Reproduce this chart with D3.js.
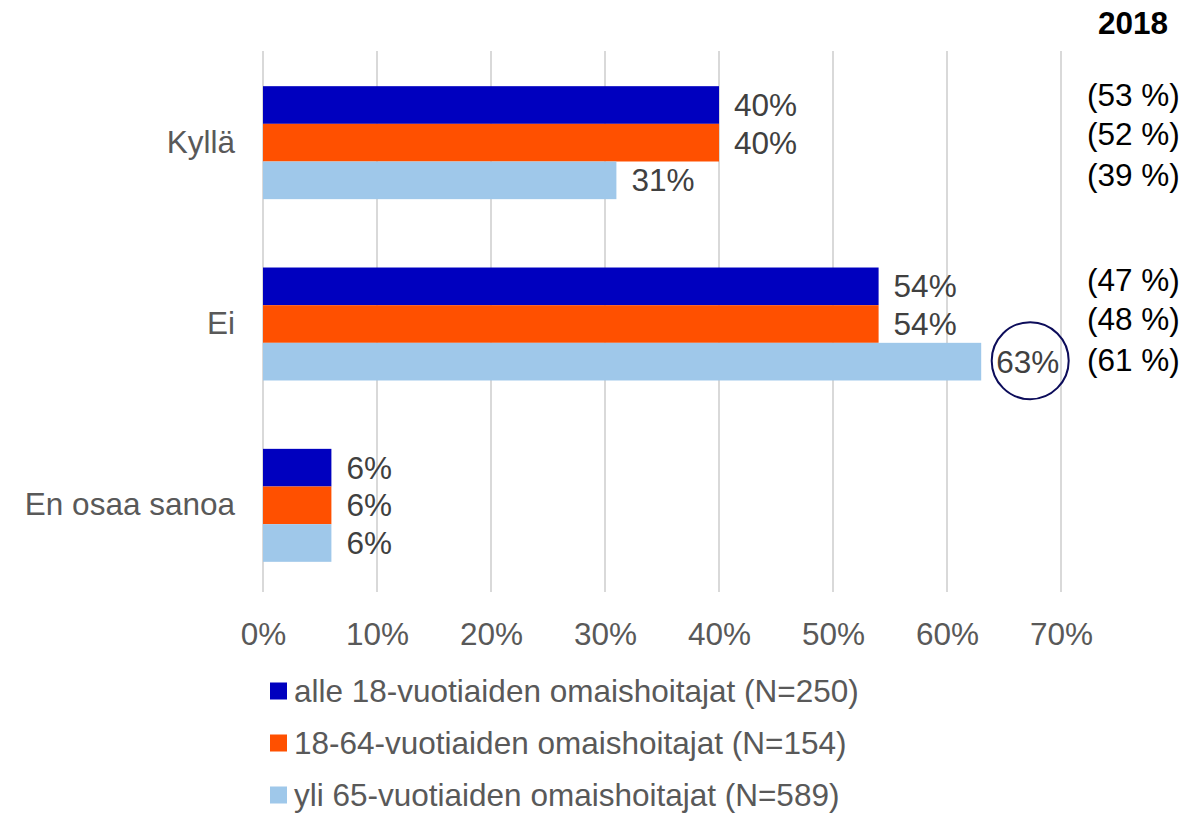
<!DOCTYPE html>
<html><head><meta charset="utf-8">
<script src="https://cdn.jsdelivr.net/npm/d3@7"></script>
<style>body{margin:0;background:#fff}svg{display:block;font-family:"Liberation Sans",Arial,sans-serif}</style>
</head><body>
<script>
const categories = ["Kyllä", "Ei", "En osaa sanoa"];
const seriesNames = ["alle 18-vuotiaiden omaishoitajat (N=250)", "18-64-vuotiaiden omaishoitajat (N=154)", "yli 65-vuotiaiden omaishoitajat (N=589)"];
const values2021 = [[40, 54, 6], [40, 54, 6], [31, 63, 6]];
const values2018 = [[53, 47], [52, 48], [39, 61]];
const xTicks = [0, 10, 20, 30, 40, 50, 60, 70];
const colors = ["#0000BF", "#FF5000", "#9FC8EA"];

const W = 1196, H = 813, FS = 31.5;
const svg = d3.select("body").append("svg").attr("width", W).attr("height", H);
const x = d3.scaleLinear().domain([0, 70]).range([263, 1061]);
const y0 = d3.scaleBand().domain(categories).range([52, 596]).paddingInner(0.377).paddingOuter(0.1885);
const y1 = d3.scaleBand().domain([0, 1, 2]).range([0, y0.bandwidth()]);

// gridlines
svg.append("g").selectAll("line").data(xTicks).join("line")
  .attr("x1", d => x(d)).attr("x2", d => x(d)).attr("y1", 51).attr("y2", 592)
  .attr("stroke", "#d9d9d9").attr("stroke-width", 2);

// x axis labels
const xAxis = d3.axisBottom(x).tickValues(xTicks).tickFormat(d => d + "%").tickSize(0).tickPadding(0);
const xg = svg.append("g").attr("transform", "translate(0,623)").call(xAxis);
xg.select(".domain").remove();
xg.selectAll("text").attr("font-size", FS).attr("fill", "#595959").attr("font-family", "Liberation Sans, Arial, sans-serif");

// category labels
const yAxis = d3.axisLeft(y0).tickSize(0).tickPadding(0);
const yg = svg.append("g").attr("transform", "translate(235,0)").call(yAxis);
yg.select(".domain").remove();
yg.selectAll("text").attr("font-size", FS).attr("fill", "#595959").attr("font-family", "Liberation Sans, Arial, sans-serif");

// bars
seriesNames.forEach((s, si) => {
  const g = svg.append("g");
  const data = categories.map((c, ci) => ({c, v: values2021[si][ci]}));
  g.selectAll("rect").data(data).join("rect")
    .attr("x", x(0)).attr("y", d => y0(d.c) + y1(si))
    .attr("width", d => x(d.v) - x(0)).attr("height", y1.bandwidth())
    .attr("fill", colors[si]);
  g.selectAll("text").data(data).join("text")
    .attr("x", d => x(d.v) + 15).attr("y", d => y0(d.c) + y1(si) + y1.bandwidth() / 2)
    .attr("dy", "0.35em").attr("font-size", FS).attr("fill", "#404040")
    .text(d => d.v + "%");
});

// 2018 comparison column
svg.append("text").attr("x", 1168).attr("y", 34).attr("text-anchor", "end")
  .attr("font-size", FS).attr("font-weight", "bold").attr("fill", "#000").text("2018");
const rowShift = [[-10, -9, -5], [-6, -5.5, -2]];
for (let ci = 0; ci < 2; ci++) {
  for (let si = 0; si < 3; si++) {
    const yy = y0(categories[ci]) + y1(si) + y1.bandwidth() / 2 + rowShift[ci][si];
    svg.append("text").attr("x", 1087).attr("y", yy).attr("dy", "0.35em")
      .attr("font-size", FS).attr("fill", "#000").text("(" + values2018[si][ci] + " %)");
  }
}

// highlight circle around 63%
svg.append("circle")
  .attr("cx", x(values2021[2][1]) + 49).attr("cy", y0("Ei") + y1(2) + y1.bandwidth() / 2 - 1)
  .attr("r", 38.5).attr("fill", "none").attr("stroke", "#0C0C5A").attr("stroke-width", 2);

// legend
const leg = svg.append("g");
seriesNames.forEach((s, i) => {
  const cy = 691 + i * 52;
  leg.append("rect").attr("x", 270).attr("y", cy - 8.5).attr("width", 17).attr("height", 17).attr("fill", colors[i]);
  leg.append("text").attr("x", 294).attr("y", cy).attr("dy", "0.35em")
    .attr("font-size", FS).attr("fill", "#595959").text(s);
});
</script>
</body></html>
